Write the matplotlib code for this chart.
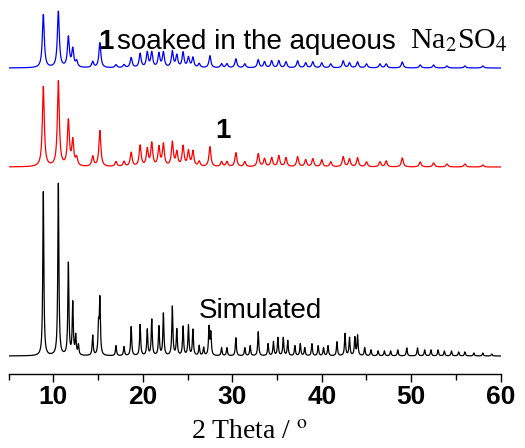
import numpy as np
import matplotlib.pyplot as plt

# --- peak lists (2theta in degrees, heights in a.u.) ---
sim_pos = [8.88, 10.56, 11.68, 12.17, 12.5, 12.8, 14.4, 15.05, 15.2, 17.0,
           17.9, 18.7, 19.7, 20.5, 21.0, 21.8, 22.3, 23.3, 23.8, 24.5,
           25.1, 25.6, 26.3, 26.8, 27.4, 27.6, 28.8, 29.4, 30.4, 31.4,
           32.0, 32.9, 34.0, 34.6, 35.1, 35.7, 36.2, 37.0, 37.6, 38.1,
           38.9, 39.6, 40.2, 40.7, 41.7, 42.6, 43.1, 43.7, 44.0, 44.8,
           45.5, 46.3, 47.0, 47.7, 48.5, 49.5, 50.7, 51.5, 52.2, 53.0,
           53.7, 54.5, 55.3, 56.0, 57.0, 58.0, 59.0]
sim_int = [164, 172, 92, 52, 19, 10, 20, 28, 55, 10,
           9, 29, 31, 26, 36, 29, 42, 49, 26, 29,
           30, 26, 10, 8, 28, 22, 8, 8, 18, 8,
           10, 24, 12, 14, 18, 18, 15, 10, 12, 8,
           12, 10, 8, 10, 14, 22, 18, 18, 20, 8,
           6, 5, 5, 5, 6, 8, 8, 6, 6, 6,
           5, 5, 4, 4, 3, 3, 2]

exp_pos = [8.88, 10.56, 11.68, 12.17, 12.6, 14.4, 15.2, 17.0, 17.9, 18.7,
           19.7, 20.5, 21.0, 21.8, 22.3, 23.3, 23.8, 24.5, 25.1, 25.6,
           26.3, 27.5, 28.8, 29.4, 30.4, 31.4, 32.9, 33.6, 34.4, 35.2,
           36.0, 37.3, 38.2, 39.0, 40.0, 41.0, 42.4, 43.1, 44.0, 45.0,
           46.5, 47.2, 49.0, 51.0, 52.5, 54.0, 56.0, 58.0]
as_made_int = [80, 85, 45, 25, 8, 10, 36, 5, 5, 14,
               21, 17, 23, 19, 22, 24, 14, 20, 15, 15,
               5, 20, 5, 5, 14, 5, 13, 8, 9, 11,
               9, 10, 7, 8, 7, 5, 10, 8, 9, 5,
               5, 6, 9, 5, 4, 3, 3, 2]
soaked_int = [53, 56, 30, 18, 6, 6, 25, 3, 3, 10,
              14, 15, 15, 14, 15, 16, 12, 15, 10, 10,
              4, 12, 4, 4, 9, 4, 8, 6, 7, 7,
              6, 7, 5, 6, 5, 4, 7, 5, 6, 4,
              4, 4, 6, 3, 3, 2, 2, 2]

offsets = {"sim": 18, "as_made": 207, "soaked": 306}


def pattern(x, pos, heights, hw):
    y = np.zeros_like(x)
    for p, h in zip(pos, heights):
        y += h / (1 + ((x - p) / hw) ** 2)
    return y


x = np.linspace(5, 60, 5501)

plt.rcParams['mathtext.fontset'] = 'stix'

fig = plt.figure(figsize=(5.25, 4.48), dpi=100)
ax = fig.add_axes([8.6 / 525, 74 / 448, (500.7 - 8.6) / 525, 374 / 448])

ax.plot(x, pattern(x, sim_pos, sim_int, 0.07) + offsets["sim"], color='black', lw=0.9)
ax.plot(x, pattern(x, exp_pos, as_made_int, 0.13) + offsets["as_made"], color='#ff0000', lw=0.9)
ax.plot(x, pattern(x, exp_pos, soaked_int, 0.13) + offsets["soaked"], color='#0000ff', lw=0.9)

ax.set_xlim(5, 60)
ax.set_ylim(0, 374)

for s in ['left', 'top', 'right']:
    ax.spines[s].set_visible(False)
ax.spines['bottom'].set_linewidth(1.0)
ax.set_yticks([])
ax.set_xticks([10, 20, 30, 40, 50, 60])
ax.set_xticks([5, 15, 25, 35, 45, 55], minor=True)
ax.tick_params(axis='x', which='major', direction='out', length=6, width=1, pad=2)
ax.tick_params(axis='x', which='minor', direction='out', length=4, width=1)
for lab in ax.get_xticklabels():
    lab.set_fontfamily('Liberation Sans')
    lab.set_fontweight('bold')
    lab.set_fontsize(19)

fig.text(250 / 525, 10 / 448, r'2 Theta / $^{\mathrm{o}}$', ha='center', va='baseline',
         family='Liberation Serif', fontsize=20)

# labels on the patterns
ax.text(15.0, 325, '1', family='Liberation Sans', weight='bold', fontsize=20, va='baseline')
ax.text(17.12, 325, 'soaked in the aqueous', family='Liberation Sans', fontsize=20, va='baseline')
ax.text(49.85, 326, r'Na$_{2}$SO$_{4}$', family='Liberation Serif', fontsize=21.5, va='baseline')
ax.text(28.1, 236, '1', family='Liberation Sans', weight='bold', fontsize=20, va='baseline')
ax.text(26.2, 56, 'Simulated', family='Liberation Sans', fontsize=20, va='baseline')

fig.savefig('out.png', dpi=100)
